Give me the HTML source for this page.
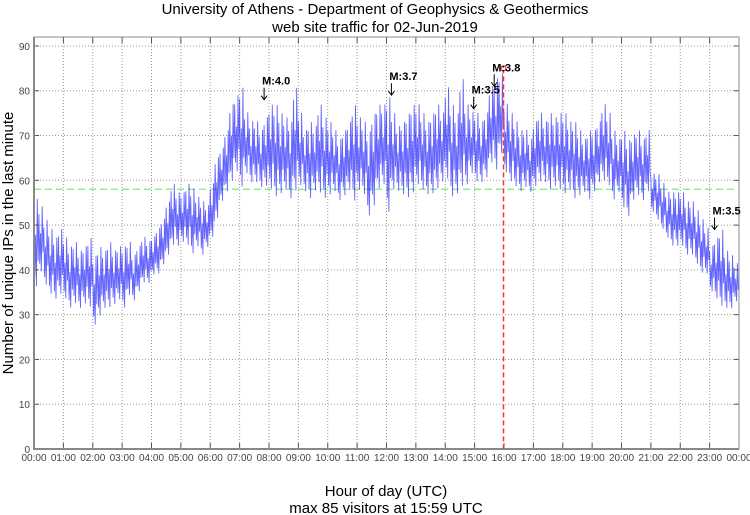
<!DOCTYPE html>
<html><head><meta charset="utf-8"><style>
body{margin:0;background:#fff;}
svg{display:block;font-family:"Liberation Sans",sans-serif;}
</style></head><body>
<svg id="chart" width="750" height="515">
<text x="375" y="14" text-anchor="middle" font-size="15">University of Athens - Department of Geophysics &amp; Geothermics</text>
<text x="375" y="32" text-anchor="middle" font-size="15">web site traffic for 02-Jun-2019</text>
<text transform="translate(13,243) rotate(-90)" text-anchor="middle" font-size="15">Number of unique IPs in the last minute</text>
<text x="386" y="496" text-anchor="middle" font-size="15">Hour of day (UTC)</text>
<text x="386" y="513" text-anchor="middle" font-size="15">max 85 visitors at 15:59 UTC</text>
<g id="grid"></g><g id="series"></g><g id="axes"></g><g id="ann"></g>
</svg>
<script>
const yTicks=[0,10,20,30,40,50,60,70,80,90];
const xTickLabels=["00:00","01:00","02:00","03:00","04:00","05:00","06:00","07:00","08:00","09:00","10:00","11:00","12:00","13:00","14:00","15:00","16:00","17:00","18:00","19:00","20:00","21:00","22:00","23:00","00:00"];
const binHigh=[57,55,52,50,48,50, 48,46,47,45,46,48, 44,46,45,47,45,46, 46,47,44,46,48,47, 48,50,52,56,60,58, 58,60,59,57,56,55, 60,66,68,72,78,80, 82,76,74,74,72,75, 78,78,76,75,74,82, 76,72,74,73,78,75, 74,72,70,72,74,78, 75,74,72,76,78,78, 80,76,73,74,76,78, 78,76,74,76,78,76, 82,78,76,84,78,76, 76,74,76,82,84,85, 78,76,74,72,72,70, 74,76,74,76,75,76, 76,74,74,72,70,72, 72,74,78,76,72,70, 72,70,71,72,70,72, 62,62,60,58,58,58, 58,56,56,54,52,50, 46,48,50,45,44,42];
const binLow=[34,38,35,33,32,33, 32,30,31,30,31,30, 26,28,30,30,31,32, 30,33,32,34,36,36, 38,38,40,42,44,44, 45,44,42,44,42,44, 46,50,54,56,58,60, 56,60,58,58,57,57, 56,54,55,56,54,55, 57,56,54,56,55,54, 55,56,54,55,56,53, 56,55,50,52,56,57, 50,56,56,55,54,55, 57,56,55,55,56,58, 58,54,55,56,57,60, 58,58,59,62,60,64, 60,58,57,56,57,56, 57,58,58,56,57,56, 55,56,54,55,56,54, 56,58,58,57,54,56, 52,50,54,55,54,56, 52,50,48,46,44,44, 44,42,42,40,38,38, 34,32,30,30,30,32];
const avgLine=58, maxVal=85, maxMinute=959;
const marks=[{m:470,label:"M:4.0",v:78},{m:730,label:"M:3.7",v:79},{m:898,label:"M:3.5",v:76},{m:940,label:"M:3.8",v:81},{m:1390,label:"M:3.5",v:49}];
const L=34,R=739,T=37,B=449;
const xs=m=>L+(R-L)*m/1440, ys=v=>B-(B-T)*v/92;
const NS="http://www.w3.org/2000/svg";
function mk(p,tag,at){const e=document.createElementNS(NS,tag);for(const k in at)e.setAttribute(k,at[k]);p.appendChild(e);return e;}
const grid=document.getElementById('grid'),axes=document.getElementById('axes'),ser=document.getElementById('series'),ann=document.getElementById('ann');
yTicks.forEach(v=>{if(v>0){const g=mk(grid,'line',{x1:L,x2:R,y1:ys(v),y2:ys(v),stroke:'#999','stroke-dasharray':'1,2'});}
const t=mk(axes,'text',{x:L-4,y:ys(v)+4,'text-anchor':'end','font-size':10,fill:'#444'});t.textContent=v;
mk(axes,'line',{x1:L,x2:L+5,y1:ys(v),y2:ys(v),stroke:'#555'});mk(axes,'line',{x1:R,x2:R-5,y1:ys(v),y2:ys(v),stroke:'#555'});});
xTickLabels.forEach((s,i)=>{const x=xs(i*60);
if(i>0&&i<24&&i!==16){const g=mk(grid,'line',{x1:x,x2:x,y1:T,y2:B,stroke:'#999','stroke-dasharray':'1,2'});}
mk(axes,'line',{x1:x,x2:x,y1:B,y2:B-6,stroke:'#555'});mk(axes,'line',{x1:x,x2:x,y1:T,y2:T+6,stroke:'#555'});
const t=mk(axes,'text',{x:x,y:B+12,'text-anchor':'middle','font-size':10,fill:'#444'});t.textContent=s;});
const f=mk(axes,'rect',{x:L,y:T,width:R-L,height:B-T,fill:'none',stroke:'#888','stroke-width':1});
mk(axes,'line',{x1:L,x2:L,y1:T,y2:B+1,stroke:'#888','stroke-width':2});mk(axes,'line',{x1:L,x2:R,y1:B,y2:B,stroke:'#888','stroke-width':2});
const av=mk(grid,'line',{x1:L,x2:R,y1:ys(avgLine),y2:ys(avgLine),stroke:'#7e7','stroke-width':1.3,'stroke-dasharray':'7,4'});
const fr=[0.85,0.2,0.6,0.1,0.95,0.35];
let d='';
binHigh.forEach((h,i)=>{const lo=binLow[i];fr.forEach((q,j)=>{const m=i*10+j*10/fr.length;d+=(d?'L':'M')+xs(m).toFixed(1)+','+ys(lo+(h-lo)*q).toFixed(1);});});
const p=mk(ser,'path',{d:d,fill:'none',stroke:'#0000ff','stroke-width':0.9,'stroke-opacity':0.6});
const vl=mk(ann,'line',{x1:xs(maxMinute),x2:xs(maxMinute),y1:ys(maxVal),y2:B,stroke:'#ff3030','stroke-width':1.5,'stroke-dasharray':'5,3'});
const c=mk(ann,'circle',{cx:xs(maxMinute),cy:ys(maxVal),r:2.5,fill:'#fff',stroke:'#e22','stroke-width':1.2});
marks.forEach(k=>{const x=xs(k.m),y=ys(k.v);
const a=mk(ann,'line',{x1:x,x2:x,y1:y-12,y2:y,stroke:'#000','stroke-width':1});
mk(ann,'path',{d:`M${x-3},${y-4}L${x},${y}L${x+3},${y-4}`,fill:'none',stroke:'#000'});
const t=mk(ann,'text',{x:x-2,y:y-15,'font-size':11,'font-weight':'bold'});t.textContent=k.label;});
</script>
</body></html>
